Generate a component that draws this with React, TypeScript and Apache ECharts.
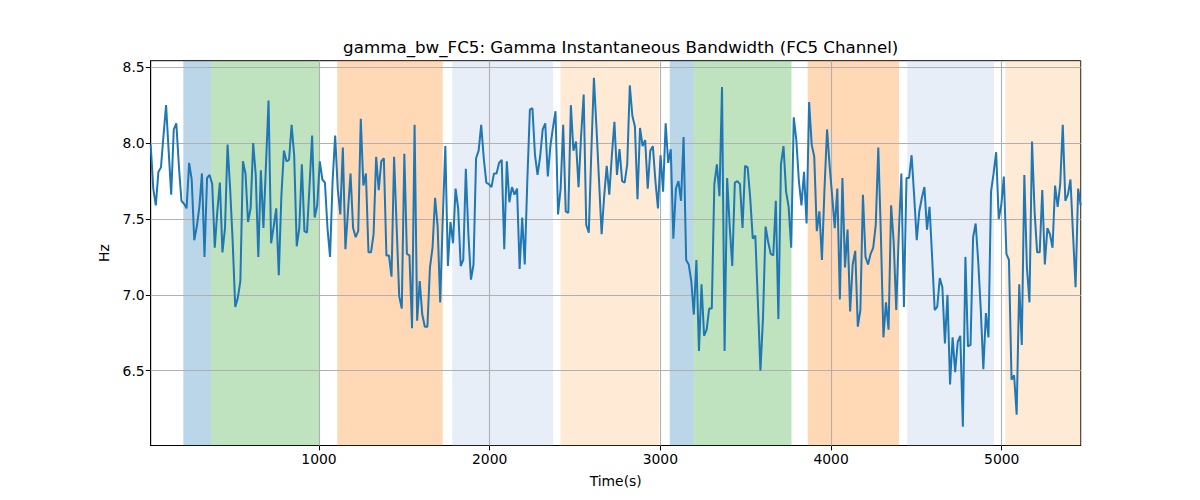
import React, { useEffect, useRef } from "react";
import * as echarts from "echarts";

// sampled gamma bandwidth (Hz), ~15 s apart
const bandwidthHz = [
  7.99, 7.7, 7.59, 7.81, 7.84, 8.05, 8.25, 7.95, 7.66, 8.09, 8.13, 7.85, 7.62, 7.6, 7.57, 7.87, 7.76, 7.36, 7.45, 7.58,
  7.8, 7.25, 7.77, 7.79, 7.73, 7.31, 7.55, 7.74, 7.28, 7.44, 7.99, 7.7, 7.35, 6.92, 6.98, 7.09, 7.88, 7.8, 7.48, 7.57,
  8.0, 7.79, 7.25, 7.82, 7.44, 7.86, 8.28,
  7.34, 7.45, 7.57, 7.13, 7.65, 7.95, 7.88, 7.89, 8.12, 7.92, 7.32, 7.44, 7.86, 7.42, 7.41, 7.72, 8.05, 7.51, 7.59, 7.88,
  7.76, 7.74, 7.44, 7.25, 7.75, 8.05, 7.7, 7.53, 7.97, 7.3, 7.55, 7.8, 7.44, 7.38, 7.42, 8.16, 7.72, 7.8, 7.28, 7.28,
  7.4, 7.91, 7.69, 7.88, 7.9, 7.26, 7.26,
  7.12, 7.91, 7.45, 6.99, 6.91, 7.93, 7.27, 7.26, 6.78, 8.12, 6.83, 7.09, 6.87, 6.79, 6.79, 7.18, 7.31, 7.64, 7.45, 6.95,
  7.5, 7.98, 7.19, 7.48, 7.34, 7.7, 7.57, 7.19, 7.23, 7.83, 7.4, 7.1, 7.2, 7.9, 7.95, 8.12, 7.9, 7.74, 7.73, 7.71,
  7.8, 7.8, 7.87, 7.89, 7.3, 7.88, 7.61,
  7.71, 7.66, 7.7, 7.17, 7.51, 7.2, 7.75, 8.22, 8.23, 7.92, 7.79, 7.91, 8.09, 8.13, 7.78, 7.98, 8.1, 8.21, 7.53, 7.7,
  8.12, 7.55, 7.54, 8.25, 7.95, 8.01, 7.71, 8.05, 8.32, 7.46, 7.41, 7.95, 8.43, 8.1, 7.75, 7.4, 7.65, 7.85, 7.66, 7.92,
  8.14, 7.79, 7.96, 7.75, 7.74, 7.86, 8.38,
  8.18, 8.11, 7.63, 8.1, 7.98, 8.02, 7.7, 7.95, 7.98, 7.75, 7.57, 7.92, 7.68, 8.13, 7.87, 7.96, 7.37, 7.7, 7.75, 7.62,
  8.04, 7.23, 7.2, 7.09, 6.87, 7.23, 6.63, 7.07, 6.73, 6.77, 6.91, 6.91, 7.73, 7.86, 7.65, 8.37, 6.63, 7.77, 7.45, 7.19,
  7.74, 7.75, 7.73, 7.44, 7.85, 7.84,
  7.64, 7.37, 7.39, 6.95, 6.5, 6.85, 7.45, 7.35, 7.27, 7.26, 7.62, 6.84, 7.86, 7.98, 7.68, 7.58, 7.31, 8.17, 8.02, 7.75,
  7.59, 7.81, 7.47, 8.27, 7.99, 7.91, 7.42, 7.55, 7.23, 7.7, 8.09, 7.85, 7.65, 7.44, 7.7, 6.97, 7.77, 7.18, 7.43, 6.89,
  7.2, 7.29, 6.79, 6.9, 7.66, 7.25, 7.2,
  7.27, 7.31, 7.46, 7.97, 7.4, 6.72, 6.95, 6.77, 7.59, 7.35, 6.9, 7.4, 7.8, 6.92, 7.77, 7.77, 7.92, 7.65, 7.36, 7.55,
  7.64, 7.71, 7.43, 7.58, 7.25, 6.9, 6.92, 7.11, 7.05, 6.68, 7.0, 6.41, 6.72, 6.49, 6.69, 6.73, 6.13, 7.25,
  6.66, 6.67, 7.38, 7.47, 7.22, 6.9, 6.51, 6.88, 6.72, 7.68, 7.8, 7.94, 7.5, 7.59, 7.78, 7.27, 7.23, 6.44, 6.47, 6.21,
  7.07, 6.67, 7.79, 7.18, 6.95, 8.01, 7.55, 7.28, 7.28, 7.69, 7.2, 7.44, 7.4, 7.31, 7.72, 7.58, 7.73, 8.12, 7.62, 7.66,
  7.76, 7.4, 7.05, 7.7, 7.59,
];
const startTime = 14;
const sampleStep = 15.01;

// shaded segments
const spanStart = [205, 367, 1107, 1781, 2415, 3055, 3195, 3863, 4446, 5021];
const spanEnd = [367, 1005, 1725, 2371, 2992, 3195, 3768, 4398, 4955, 5463];
const spanColor = [
  "rgba(31,119,180,0.3)",
  "rgba(44,160,44,0.3)",
  "rgba(255,127,14,0.3)",
  "rgba(174,199,232,0.3)",
  "rgba(255,187,120,0.3)",
  "rgba(31,119,180,0.3)",
  "rgba(44,160,44,0.3)",
  "rgba(255,127,14,0.3)",
  "rgba(174,199,232,0.3)",
  "rgba(255,187,120,0.3)",
];

const xTicks = [1000, 2000, 3000, 4000, 5000];
const yTicks = [6.5, 7.0, 7.5, 8.0, 8.5];

const FONT = "DejaVu Sans";

const App = () => {
  const chartRef = useRef(null);

  useEffect(() => {
    if (!chartRef.current) return;
    const chart = echarts.init(chartRef.current, null, { renderer: "svg" });

    const points = bandwidthHz.map((v, i) => [startTime + i * sampleStep, v]);
    const xMax = points[points.length - 1][0];

    chart.setOption({
      animation: false,
      backgroundColor: "#fff",
      title: {
        text: "gamma_bw_FC5: Gamma Instantaneous Bandwidth (FC5 Channel)",
        left: 615.7,
        textAlign: "center",
        top: 33,
        textStyle: { fontFamily: FONT, fontSize: 16.7, fontWeight: "normal", color: "#000" },
      },
      grid: {
        left: 150.7,
        right: 119.3,
        top: 60.7,
        bottom: 54.5,
        show: true,
        borderColor: "#000",
        borderWidth: 1,
        backgroundColor: "transparent",
      },
      xAxis: {
        type: "value",
        min: startTime,
        max: xMax,
        name: "Time(s)",
        nameLocation: "middle",
        nameGap: 28,
        nameTextStyle: { fontFamily: FONT, fontSize: 13.9, color: "#000" },
        axisLine: { show: true, lineStyle: { color: "#000", width: 1 } },
        axisTick: { show: true, customValues: xTicks, length: 4.9, lineStyle: { color: "#000" } },
        axisLabel: {
          customValues: xTicks,
          formatter: (v: number) => String(v),
          fontFamily: FONT,
          fontSize: 13.9,
          color: "#000",
          margin: 6,
        },
        splitLine: { show: false },
      },
      yAxis: {
        type: "value",
        min: 6.007,
        max: 8.543,
        name: "Hz",
        nameLocation: "middle",
        nameGap: 40,
        nameTextStyle: { fontFamily: FONT, fontSize: 13.9, color: "#000" },
        axisLine: { show: true, lineStyle: { color: "#000", width: 1 } },
        axisTick: { show: true, customValues: yTicks, length: 4.9, lineStyle: { color: "#000" } },
        axisLabel: {
          customValues: yTicks,
          formatter: (v: number) => v.toFixed(1),
          fontFamily: FONT,
          fontSize: 13.9,
          color: "#000",
          margin: 6,
        },
        splitLine: { show: false },
      },
      series: [
        {
          type: "line",
          z: 1,
          silent: true,
          data: [[startTime, null]],
          showSymbol: false,
          markArea: {
            silent: true,
            z: 1,
            data: spanStart.map((s, i) => [
              { xAxis: s, itemStyle: { color: spanColor[i] } },
              { xAxis: spanEnd[i] },
            ]),
          },
        },
        {
          type: "line",
          z: 2,
          silent: true,
          data: [[startTime, null]],
          showSymbol: false,
          markLine: {
            silent: true,
            z: 2,
            symbol: ["none", "none"],
            label: { show: false },
            lineStyle: { color: "#b0b0b0", width: 1.1, type: "solid" },
            data: [
              ...xTicks.map((v) => ({ xAxis: v })),
              ...yTicks.map((v) => ({ yAxis: v })),
            ],
          },
        },
        {
          type: "line",
          z: 5,
          data: points,
          showSymbol: false,
          lineStyle: { color: "#1f77b4", width: 2 },
        },
      ],
    });

    return () => {
      chart.dispose();
    };
  }, []);

  return (
    <div
      ref={chartRef}
      style={{ position: "fixed", left: 0, top: 0, width: "1200px", height: "500px" }}
    />
  );
};

export default App;
